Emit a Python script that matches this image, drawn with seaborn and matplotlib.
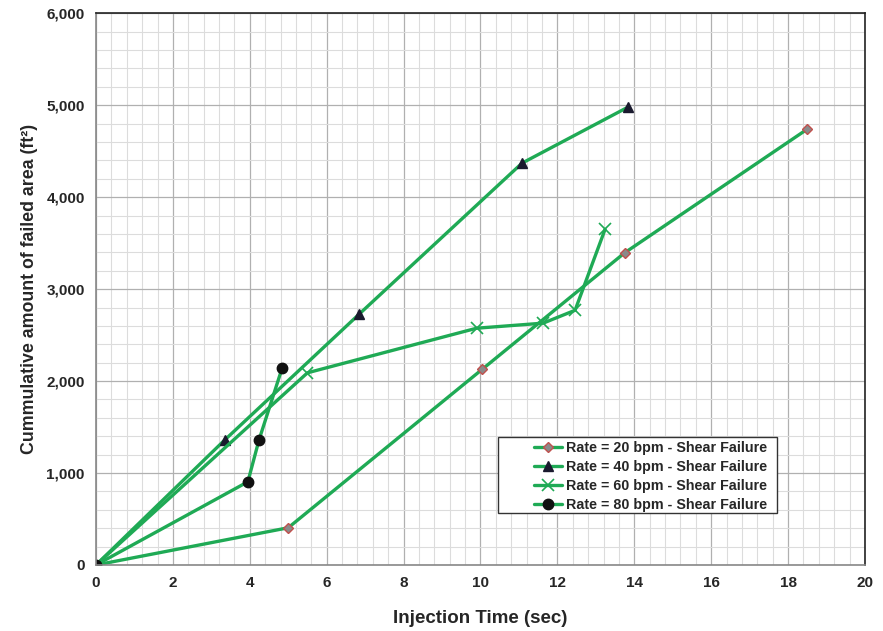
import matplotlib
matplotlib.use("Agg")
import matplotlib.pyplot as plt
from matplotlib.ticker import MultipleLocator, FuncFormatter
from matplotlib.patches import Rectangle
import seaborn as sns
import pandas as pd

# Injection time (sec) and cumulative failed area (ft²) for each pumping rate
time_20 = [0.0, 5.0, 10.05, 13.75, 18.5]
area_20 = [0, 405, 2130, 3395, 4740]

time_40 = [0.0, 3.35, 6.85, 11.08, 13.84]
area_40 = [0, 1360, 2730, 4370, 4980]

time_60 = [0.0, 5.5, 9.9, 11.63, 12.46, 13.24]
area_60 = [0, 2090, 2575, 2630, 2770, 3650]

time_80 = [0.0, 3.95, 4.24, 4.84]
area_80 = [0, 905, 1360, 2140]

labels = [
    "Rate = 20 bpm - Shear Failure",
    "Rate = 40 bpm - Shear Failure",
    "Rate = 60 bpm - Shear Failure",
    "Rate = 80 bpm - Shear Failure",
]

sns.set_style("white")
plt.rcParams["font.family"] = ["Liberation Sans", "DejaVu Sans"]

green = "#1faa55"
fig = plt.figure(figsize=(8.83, 6.31), dpi=100)
ax = fig.add_axes([0.1087, 0.1046, 0.8709, 0.8744])

markers = ["D", "^", "x", "o"]
face = ["#8a8a8a", "#1a1a2e", green, "#111111"]
edge = ["#c0504d", "#1a1a2e", green, "#111111"]
sizes = [5.5, 7, 8, 7.5]
ew = [1.0, 1.0, 1.2, 1.0]

for lab, t, a, mk, fc, ec, ms, w in zip(
        labels, [time_20, time_40, time_60, time_80],
        [area_20, area_40, area_60, area_80], markers, face, edge, sizes, ew):
    d = pd.DataFrame({"time": t, "area": a})
    sns.lineplot(data=d, x="time", y="area", color=green, marker=mk,
                 markerfacecolor=fc, markeredgecolor=ec, markersize=ms,
                 markeredgewidth=w, linewidth=2.4, sort=False, ax=ax,
                 label=lab)

ax.set_xlim(0, 20)
ax.set_ylim(0, 6000)
ax.xaxis.set_major_locator(MultipleLocator(2))
ax.xaxis.set_minor_locator(MultipleLocator(0.4))
ax.yaxis.set_major_locator(MultipleLocator(1000))
ax.yaxis.set_minor_locator(MultipleLocator(200))
ax.yaxis.set_major_formatter(FuncFormatter(lambda v, p: f"{int(v):,}"))

ax.grid(which="major", color="#b0b0b0", linewidth=0.9)
ax.grid(which="minor", color="#dcdcdc", linewidth=0.8)
ax.set_axisbelow(True)

for side in ["top", "right"]:
    ax.spines[side].set_color("#222222")
    ax.spines[side].set_linewidth(1.2)
for side in ["left", "bottom"]:
    ax.spines[side].set_color("#888888")
    ax.spines[side].set_linewidth(1.2)

narrow = ["Liberation Sans Narrow", "Liberation Sans", "DejaVu Sans"]
ax.tick_params(axis="both", which="major", length=4, color="#888888",
               direction="out", pad=4)
ax.tick_params(axis="both", which="minor", length=0)
for lbl in ax.get_yticklabels():
    lbl.set_fontweight("bold")
    lbl.set_fontsize(11)
for lbl in ax.get_xticklabels():
    lbl.set_fontweight("bold")
    lbl.set_fontsize(11)
    lbl.set_family(narrow)

ax.set_xlabel("Injection Time (sec)", fontsize=13.5, fontweight="bold",
              family=narrow, labelpad=14)
ax.set_ylabel("Cummulative amount of failed area (ft²)", fontsize=12.8,
              fontweight="bold", labelpad=6)

# Framed legend box with the entries inset from its left edge
box = Rectangle((0.5228, 0.0942), 0.3628, 0.1377, transform=ax.transAxes,
                facecolor="white", edgecolor="#333333", linewidth=1.0,
                zorder=4)
ax.add_patch(box)
leg = ax.legend(loc="upper left", bbox_to_anchor=(0.5690, 0.2255),
                frameon=False, prop={"weight": "bold", "size": 10.3},
                handlelength=2.0, handletextpad=0.25, borderpad=0.0,
                borderaxespad=0.0, labelspacing=0.37)
leg.set_zorder(5)

fig.savefig("out.png", dpi=100)
